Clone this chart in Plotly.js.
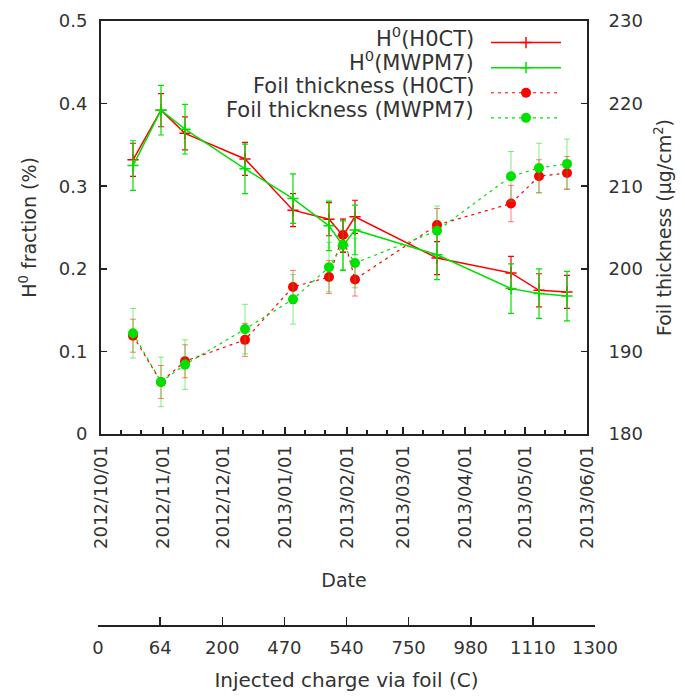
<!DOCTYPE html>
<html><head><meta charset="utf-8">
<script src="https://cdn.plot.ly/plotly-3.0.1.min.js"></script>
<style>body{margin:0;background:#fff}#chart{width:685px;height:697px}</style>
</head><body><div id="chart"></div>
<script>
// ---- data ----
const dates = ['2012-10-17','2012-10-31','2012-11-12','2012-12-12','2013-01-05','2013-01-23','2013-01-30','2013-02-05','2013-03-18','2013-04-24','2013-05-08','2013-05-22'];
const h0H0CT      = [0.332,0.392,0.364,0.333,0.271,0.260,0.240,0.263,0.213,0.195,0.174,0.172];
const h0H0CTErr   = [0.020,0.020,0.020,0.020,0.020,0.020,0.020,0.020,0.020,0.020,0.020,0.020];
const h0MWPM7     = [0.325,0.392,0.369,0.321,0.285,0.252,0.228,0.247,0.217,0.176,0.170,0.167];
const h0MWPM7Err  = [0.030,0.030,0.030,0.030,0.030,0.030,0.030,0.030,0.030,0.030,0.030,0.030];
const foilH0CT    = [191.9,186.3,188.8,191.4,197.8,199.0,204.1,198.7,205.3,207.9,211.2,211.6];
const foilH0CTErr = [2.0,2.0,2.0,2.0,2.0,2.0,2.0,2.0,2.0,2.2,2.0,2.0];
const foilMWPM7   = [192.2,186.3,188.4,192.7,196.3,200.2,202.9,200.7,204.6,211.2,212.2,212.7];
const foilMWPM7Err= [3.0,3.0,3.0,3.0,3.0,3.0,3.0,3.0,3.0,3.0,3.0,3.0];
const monthTicks  = ['2012-10-01','2012-11-01','2012-12-01','2013-01-01','2013-02-01','2013-03-01','2013-04-01','2013-05-01','2013-06-01'];
const monthLabels = ['2012/10/01','2012/11/01','2012/12/01','2013/01/01','2013/02/01','2013/03/01','2013/04/01','2013/05/01','2013/06/01'];
const chargeLabels = ['0','64','200','470','540','750','980','1110','1300'];
const seriesNames = ['H<sup>0</sup>(H0CT)','H<sup>0</sup>(MWPM7)','Foil thickness (H0CT)','Foil thickness (MWPM7)'];

// ---- styling ----
const RED = 'rgb(255,0,0)', GREEN = 'rgb(0,225,0)';
const FONT = 'DejaVu Sans, Verdana, sans-serif';
const TXT = '#333';
const AX = '#222';

function h0Trace(y, err, color, idx){
  return {type:'scatter', mode:'lines+markers', x:dates, y:y, name:'\u00a0', meta:seriesNames[idx],
    line:{color:color, width:1.5},
    marker:{symbol:'cross-thin', size:8, color:color, line:{color:color, width:1.5}},
    error_y:{type:'data', array:err, visible:true, color:color, thickness:1.2, width:3},
    xaxis:'x', yaxis:'y'};
}
function foilTrace(y, err, color, idx, errColor){
  return {type:'scatter', mode:'lines+markers', x:dates, y:y, name:'\u00a0', meta:seriesNames[idx],
    line:{color:color, width:1.2, dash:'3px,4px'},
    marker:{symbol:'circle', size:10, color:color},
    error_y:{type:'data', array:err, visible:true, color:errColor, thickness:1, width:3},
    xaxis:'x', yaxis:'y2'};
}

const traces = [
  h0Trace(h0H0CT, h0H0CTErr, RED, 0),
  h0Trace(h0MWPM7, h0MWPM7Err, GREEN, 1),
  foilTrace(foilH0CT, foilH0CTErr, RED, 2, 'rgba(255,0,0,0.5)'),
  foilTrace(foilMWPM7, foilMWPM7Err, GREEN, 3, 'rgba(0,225,0,0.5)'),
  // invisible carrier so the secondary "injected charge" axis gets drawn
  {type:'scatter', mode:'markers', x:chargeLabels.map((_, i) => i), y:chargeLabels.map(() => 0.5),
   marker:{opacity:0, size:1}, showlegend:false, hoverinfo:'skip', xaxis:'x3', yaxis:'y3'}
];

// minor ticks every ~10 days inside each month (axis decoration)
const minorTicks = [];
monthTicks.slice(0,-1).forEach(m => {
  const d = new Date(m + 'T00:00:00Z');
  [10,20].forEach(k => { const t = new Date(d.getTime() + k*86400000); minorTicks.push(t.toISOString().slice(0,10)); });
});

const L = 98, R = 90, T = 21, B = 72, W = 685, H = 697;
const pw = W - L - R, ph = H - T - B;
const plotLeft = 101, plotRight = 587, plotBottom = 434;

const annotations = seriesNames.map((s, i) => ({
  text: s, xref:'paper', yref:'paper', showarrow:false,
  x: (476 - L)/pw, xanchor:'right',
  y: (H - B - [37, 61, 86, 110][i])/ph, yanchor:'middle',
  font:{family:FONT, size:21, color:TXT}
}));

const layout = {
  width:W, height:H,
  margin:{l:L, r:R, t:T, b:B},
  paper_bgcolor:'#fff', plot_bgcolor:'#fff',
  font:{family:FONT, size:18, color:TXT},
  showlegend:true,
  legend:{x:(486 - L)/pw, xanchor:'left', y:(H - B - 25)/ph, yanchor:'top',
    bgcolor:'rgba(0,0,0,0)', borderwidth:0, font:{size:17}, itemwidth:70, tracegroupgap:0},
  xaxis:{type:'date', domain:[(plotLeft - L)/pw, (plotRight - L)/pw], anchor:'y',
    range:['2012-10-01','2013-06-01'], tickmode:'array', tickvals:monthTicks, ticktext:monthLabels,
    tickangle:-90, ticks:'inside', ticklen:7, tickwidth:1.5, tickcolor:AX,
    minor:{tickmode:'array', tickvals:minorTicks, ticks:'inside', ticklen:4, tickwidth:1.2, tickcolor:AX, showgrid:false},
    showline:true, linewidth:2, linecolor:AX, mirror:true, showgrid:false, zeroline:false,
    tickfont:{size:18, color:TXT}, ticklabelstandoff:2,
    title:{text:'Date', font:{size:19, color:TXT}, standoff:26}},
  yaxis:{domain:[(H - B - plotBottom)/ph, 1], range:[0,0.5], dtick:0.1, tick0:0,
    ticks:'inside', ticklen:6, tickwidth:1.5, tickcolor:AX,
    showline:true, linewidth:2, linecolor:AX, showgrid:false, zeroline:false,
    tickfont:{size:18, color:TXT}, ticklabelstandoff:8,
    title:{text:'H<sup>0</sup> fraction (%)', font:{size:19, color:TXT}, standoff:17}},
  yaxis2:{overlaying:'y', side:'right', anchor:'x', range:[180,230], dtick:10, tick0:180,
    ticks:'inside', ticklen:6, tickwidth:1.5, tickcolor:AX,
    showline:true, linewidth:2, linecolor:AX, showgrid:false, zeroline:false,
    tickfont:{size:18, color:TXT}, ticklabelstandoff:16,
    title:{text:'Foil thickness (µg/cm<sup>2</sup>)', font:{size:19, color:TXT}, standoff:16}},
  xaxis3:{anchor:'y3', domain:[0,1], range:[0,8], tickmode:'array',
    tickvals:chargeLabels.map((_, i) => i), ticktext:chargeLabels,
    ticks:'inside', ticklen:8, tickwidth:1.5, tickcolor:AX,
    showline:true, linewidth:1.5, linecolor:AX, showgrid:false, zeroline:false,
    tickfont:{size:18, color:TXT}, ticklabelstandoff:6,
    title:{text:'Injected charge via foil (C)', font:{size:20, color:TXT}, standoff:16}},
  yaxis3:{anchor:'x3', domain:[0,0.01], range:[0,1], visible:false, showgrid:false, zeroline:false},
  annotations: annotations
};

Plotly.newPlot('chart', traces, layout, {displayModeBar:false, staticPlot:true});
</script>
</body></html>
